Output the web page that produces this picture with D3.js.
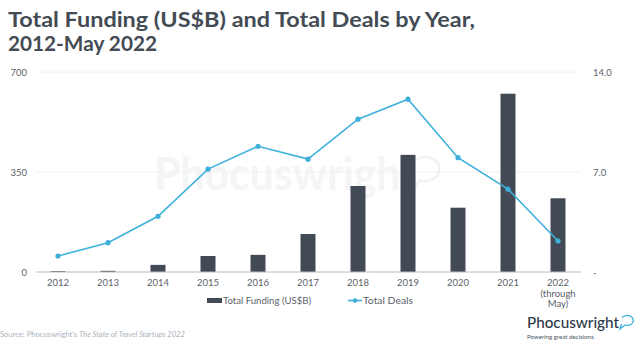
<!DOCTYPE html>
<html>
<head>
<meta charset="utf-8">
<script src="https://cdn.jsdelivr.net/npm/d3@7"></script>
<style>
  body { margin: 0; background: #fff; }
  svg { font-family: "Lato", "Noto Sans", sans-serif; display: block; }
</style>
</head>
<body>
<div id="chart"></div>
<script>
// chart data
const years = ["2012", "2013", "2014", "2015", "2016", "2017", "2018", "2019", "2020", "2021", "2022"];
const yearLabels = [["2012"], ["2013"], ["2014"], ["2015"], ["2016"], ["2017"], ["2018"], ["2019"], ["2020"], ["2021"], ["2022", "(through", "May)"]];
const funding = [3, 4, 25, 56, 60, 133, 301, 410, 225, 624, 258];
const deals = [1.12, 2.05, 3.9, 7.2, 8.8, 7.9, 10.7, 12.1, 8.0, 5.8, 2.17];
const leftTicks = [0, 350, 700];
const rightTicks = [0, 7, 14];

const W = 640, H = 353;
const margin = {top: 72, right: 57, bottom: 81, left: 33};

const svg = d3.select("#chart").append("svg")
    .attr("width", W)
    .attr("height", H);

// title
svg.append("text")
    .attr("x", 8).attr("y", 27)
    .attr("font-size", 21).attr("font-weight", 700)
    .attr("fill", "#434b54")
    .attr("textLength", 467).attr("lengthAdjust", "spacingAndGlyphs")
    .text("Total Funding (US$B) and Total Deals by Year,");
svg.append("text")
    .attr("x", 8).attr("y", 50.5)
    .attr("font-size", 21).attr("font-weight", 700)
    .attr("fill", "#434b54")
    .attr("textLength", 149).attr("lengthAdjust", "spacingAndGlyphs")
    .text("2012-May 2022");

// scales
let xScale = d3.scaleBand().domain(years)
    .range([margin.left, W - margin.right]);
let yLeft = d3.scaleLinear().domain([0, 700])
    .range([H - margin.bottom, margin.top]);
let yRight = d3.scaleLinear().domain([0, 14])
    .range([H - margin.bottom, margin.top]);

// watermark
svg.append("text")
    .attr("x", 154).attr("y", 190)
    .attr("font-size", 46).attr("font-weight", 700)
    .attr("fill", "#f4f5f6")
    .attr("textLength", 262).attr("lengthAdjust", "spacingAndGlyphs")
    .text("Phocuswright");
svg.append("path")
    .attr("d", "M416,160 a14,12 0 1,1 4,20 l-7,9 l2,-10")
    .attr("fill", "none").attr("stroke", "#f1f2f3").attr("stroke-width", 2.5);

// gridlines
svg.append("g")
    .selectAll("line")
    .data(leftTicks.slice(1))
    .enter().append("line")
    .attr("x1", margin.left + 3).attr("x2", W - margin.right - 2)
    .attr("y1", d => yLeft(d)).attr("y2", d => yLeft(d))
    .attr("stroke", "#eeeff1").attr("stroke-width", 0.8);

// left axis
const leftAxis = svg.append("g")
    .attr("transform", "translate(" + margin.left + ",0)")
    .call(d3.axisLeft(yLeft).tickValues(leftTicks).tickSize(0).tickPadding(6));
leftAxis.select(".domain").remove();
leftAxis.selectAll("text").attr("font-size", 9.5).attr("fill", "#5b626a")
    .attr("font-family", "Lato, sans-serif");

// right axis
const rightAxis = svg.append("g")
    .attr("transform", "translate(" + (W - margin.right) + ",0)")
    .call(d3.axisRight(yRight).tickValues(rightTicks).tickSize(0).tickPadding(10)
        .tickFormat(d => d === 0 ? "-" : d3.format(".1f")(d)));
rightAxis.select(".domain").remove();
rightAxis.selectAll("text").attr("font-size", 9.5).attr("fill", "#5b626a")
    .attr("font-family", "Lato, sans-serif");

// bars
const barW = 15;
svg.append("g")
    .selectAll("rect")
    .data(funding)
    .enter().append("rect")
    .attr("x", (d, i) => xScale(years[i]) + xScale.bandwidth() / 2 - barW / 2)
    .attr("y", d => yLeft(d))
    .attr("width", barW)
    .attr("height", d => yLeft(0) - yLeft(d))
    .attr("fill", "#424b55");

// baseline
svg.append("line")
    .attr("x1", margin.left + 3).attr("x2", W - margin.right - 2)
    .attr("y1", yLeft(0)).attr("y2", yLeft(0))
    .attr("stroke", "#b9bcc2").attr("stroke-width", 1.2);

// x labels
const xl = svg.append("g");
yearLabels.forEach((lines, i) => {
    const t = xl.append("text")
        .attr("x", xScale(years[i]) + xScale.bandwidth() / 2)
        .attr("y", yLeft(0) + 14)
        .attr("text-anchor", "middle")
        .attr("font-size", 9.5).attr("fill", "#5b626a");
    lines.forEach((s, j) => {
        t.append("tspan")
            .attr("x", xScale(years[i]) + xScale.bandwidth() / 2)
            .attr("dy", j === 0 ? 0 : 10.5)
            .text(s);
    });
});

// line
const lineColor = "#3eb0dc";
const line = d3.line()
    .x((d, i) => xScale(years[i]) + xScale.bandwidth() / 2)
    .y(d => yRight(d));
svg.append("path")
    .datum(deals)
    .attr("d", line)
    .attr("fill", "none")
    .attr("stroke", lineColor)
    .attr("stroke-width", 1.6);
svg.append("g")
    .selectAll("circle")
    .data(deals)
    .enter().append("circle")
    .attr("cx", (d, i) => xScale(years[i]) + xScale.bandwidth() / 2)
    .attr("cy", d => yRight(d))
    .attr("r", 2.6)
    .attr("fill", lineColor);

// legend
const lg = svg.append("g").attr("transform", "translate(0,300.5)");
lg.append("rect").attr("x", 207).attr("y", -2.5).attr("width", 15).attr("height", 5).attr("fill", "#424b55");
lg.append("text").attr("x", 223).attr("y", 3.8).attr("font-size", 10.3).attr("fill", "#5b626a")
    .attr("textLength", 88).attr("lengthAdjust", "spacingAndGlyphs")
    .text("Total Funding (US$B)");
lg.append("line").attr("x1", 348).attr("x2", 362).attr("y1", 0).attr("y2", 0)
    .attr("stroke", lineColor).attr("stroke-width", 1.6);
lg.append("circle").attr("cx", 355).attr("cy", 0).attr("r", 2.3).attr("fill", lineColor);
lg.append("text").attr("x", 363).attr("y", 3.8).attr("font-size", 10.3).attr("fill", "#5b626a")
    .attr("textLength", 50).attr("lengthAdjust", "spacingAndGlyphs")
    .text("Total Deals");

// source
const src = svg.append("text")
    .attr("x", 0).attr("y", 336.5)
    .attr("font-size", 7.6).attr("fill", "#a9b3bd");
src.append("tspan").text("Source: Phocuswright's ");
src.append("tspan").attr("font-style", "italic").text("The State of Travel Startups 2022");

// logo
svg.append("text")
    .attr("x", 527).attr("y", 328)
    .attr("font-size", 15).attr("font-weight", 500)
    .attr("fill", "#2e3a4a")
    .attr("textLength", 92).attr("lengthAdjust", "spacingAndGlyphs")
    .text("Phocuswright");
svg.append("path")
    .attr("d", "M622,318 a6,5 0 1,1 3,7 l-5,4 l1.5,-5")
    .attr("fill", "none").attr("stroke", "#3eb0dc").attr("stroke-width", 1.3);
svg.append("text")
    .attr("x", 527).attr("y", 339)
    .attr("font-size", 6)
    .attr("fill", "#4a5560")
    .attr("textLength", 68).attr("lengthAdjust", "spacingAndGlyphs")
    .text("Powering great decisions.");
</script>
</body>
</html>
